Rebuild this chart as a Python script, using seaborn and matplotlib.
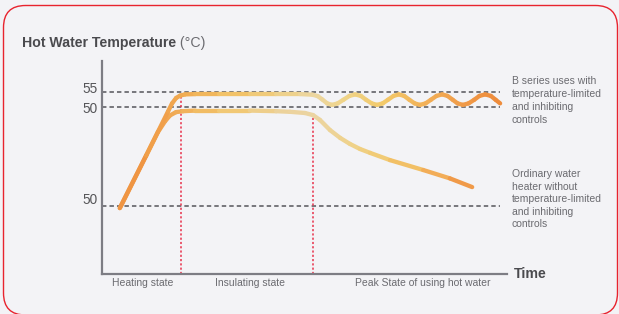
import matplotlib.pyplot as plt
import seaborn as sns
import numpy as np
from matplotlib.collections import LineCollection
from matplotlib.colors import LinearSegmentedColormap
from matplotlib.patches import FancyBboxPatch
from matplotlib.transforms import IdentityTransform, ScaledTranslation

sns.set_theme(style="white")
plt.rcParams['font.family'] = ['Liberation Sans', 'DejaVu Sans']

# time runs 0..100 along the axis, y is water temperature
b_series_x = [4.4, 10.9, 16.3, 17.3, 18.3, 19.3, 20.5, 23.0, 29.0, 36.5,
              43.0, 48.9, 52.0, 53.3, 54.4, 55.6, 56.8,
              58.2, 59.6, 61.1, 62.5, 63.9, 65.2, 66.6, 67.9,
              69.3, 70.6, 72.0, 73.3, 74.6, 75.9, 77.2, 78.5,
              79.9, 81.2, 82.6, 84.0, 85.3, 86.6, 87.8, 89.1,
              90.5, 91.9, 93.2, 94.6, 96.0, 97.2, 98.3]
b_series_y = [16.3, 33.8, 48.5, 51.2, 53.0, 53.8, 54.2, 54.3, 54.3, 54.3,
              54.3, 54.3, 54.1, 53.6, 52.5, 51.2, 50.7,
              51.2, 52.4, 53.7, 54.2, 53.7, 52.4, 51.2, 50.7,
              51.2, 52.4, 53.7, 54.2, 53.7, 52.4, 51.2, 50.7,
              51.2, 52.4, 53.7, 54.2, 53.7, 52.4, 51.2, 50.7,
              51.2, 52.4, 53.7, 54.2, 53.7, 52.4, 51.2]

ordinary_x = [4.4, 10.9, 13.8, 15.6, 16.8, 18.3, 20.0, 23.0, 29.0, 36.5,
              43.0, 46.4, 50.1, 52.1, 53.8, 56.3, 58.8, 61.2, 63.7, 66.2,
              71.1, 79.3, 85.9, 91.4]
ordinary_y = [16.3, 33.8, 41.6, 45.3, 47.2, 48.3, 48.6, 48.8, 48.8, 48.8,
              48.6, 48.4, 48.0, 47.3, 45.7, 42.3, 39.7, 37.7, 36.0, 34.7,
              32.3, 29.0, 26.2, 23.3]

ref_levels = [55, 50, 17]
ref_labels = ["55", "50", "50"]
ref_end = 98.3

phase_bounds = [19.5, 52.1]
phase_tops = [53.3, 47.0]
phase_names = ["Heating state", "Insulating state", "Peak State of using hot water"]

b_series_note = ["B series uses with", "temperature-limited", "and inhibiting", "controls"]
ordinary_note = ["Ordinary water", "heater without", "temperature-limited",
                 "and inhibiting", "controls"]

# colour stops along time for the two gradient curves
b_stops = [(4, '#ef9040'), (18, '#f0a64e'), (30, '#f2bf62'), (42, '#f0cd7e'),
           (52, '#ecd6a2'), (60, '#efd48a'), (70, '#f2c96a'), (80, '#f2b158'),
           (90, '#f09a48'), (98, '#ee8c3c')]
ord_stops = [(4, '#ef9040'), (18, '#f0aa55'), (30, '#f2c66c'), (45, '#ecd29c'),
             (53, '#ebd4a2'), (62, '#efd28a'), (72, '#f2c86c'), (82, '#f2b05a'),
             (91, '#ef9444')]


def gradient_line(ax, xs, ys, stops, lw=3.1):
    lo, hi = stops[0][0], stops[-1][0]
    cmap = LinearSegmentedColormap.from_list(
        "g", [((p - lo) / (hi - lo), c) for p, c in stops])
    pts = np.column_stack([xs, ys])
    segs = np.stack([pts[:-1], pts[1:]], axis=1)
    mids = (pts[:-1, 0] + pts[1:, 0]) / 2
    cols = cmap(np.clip((mids - lo) / (hi - lo), 0, 1))
    lc = LineCollection(segs, colors=cols, linewidths=lw,
                        capstyle='round', joinstyle='round', zorder=4)
    ax.add_collection(lc)


fig = plt.figure(figsize=(6.19, 3.14), dpi=100)
fig.patch.set_facecolor('#f3f3f6')
ax = fig.add_axes([102 / 619, 40 / 314, 405 / 619, 213 / 314])
ax.set_facecolor('none')
ax.set_xlim(0, 100)
ax.set_ylim(-5.67, 65.33)

# reference temperature lines
for lvl in ref_levels:
    sns.lineplot(x=[0, ref_end], y=[lvl, lvl], ax=ax, color='#55555a',
                 linewidth=1.1, linestyle=(0, (2.9, 2.0)), zorder=2)

# phase dividers
for bx, top in zip(phase_bounds, phase_tops):
    ax.plot([bx, bx], [-5.67, top], color='#e8304a', linewidth=1.1,
            linestyle=(0, (1.4, 1.4)), zorder=2)

gradient_line(ax, ordinary_x, ordinary_y, ord_stops)
gradient_line(ax, b_series_x, b_series_y, b_stops)

sns.despine(ax=ax)
for side in ['left', 'bottom']:
    ax.spines[side].set_color('#7d7d84')
    ax.spines[side].set_linewidth(1.6)

ax.set_xticks([])
ax.set_yticks(ref_levels)
ax.set_yticklabels(ref_labels)
ax.tick_params(axis='y', length=0, pad=3, labelsize=9.8, labelcolor='#555558')
for lab, dy in zip(ax.get_yticklabels(), [3.1, -0.7, 5.5]):
    lab.set_transform(lab.get_transform() + ScaledTranslation(0, dy / 72, fig.dpi_scale_trans))

# phase names under the time axis
for name, px in zip(phase_names, [10.1, 36.5, 79.1]):
    ax.annotate(name, xy=(px, 0), xycoords=('data', 'axes fraction'),
                xytext=(0, -9.0), textcoords='offset points',
                ha='center', va='baseline', fontsize=7.5, color='#6b6b70')


def fx(px):
    return px / 619


def fy(py):
    return 1 - py / 314


t1 = fig.text(fx(22), fy(46.5), "Hot Water Temperature", fontsize=10.2,
              fontweight='bold', color='#4a4a4e', va='baseline')
ax.annotate(" (°C)", xy=(1, 0), xycoords=t1, va='bottom', ha='left',
            fontsize=10.2, color='#6b6b70', annotation_clip=False)

fig.text(fx(514), fy(278.5), "Time", fontsize=10.2, fontweight='bold',
         color='#4a4a4e', va='baseline')

for i, line in enumerate(b_series_note):
    fig.text(fx(512), fy(84.3 + i * 12.8), line, fontsize=7.5,
             color='#6b6b70', va='baseline')
for i, line in enumerate(ordinary_note):
    fig.text(fx(512), fy(177.3 + i * 12.5), line, fontsize=7.5,
             color='#6b6b70', va='baseline')

frame = FancyBboxPatch((3.5, -1), 614, 309.5,
                       boxstyle="round,pad=0,rounding_size=22",
                       transform=IdentityTransform(), fill=False,
                       edgecolor='#e8232e', linewidth=1.0)
fig.add_artist(frame)

fig.savefig("out.png", dpi=100)
